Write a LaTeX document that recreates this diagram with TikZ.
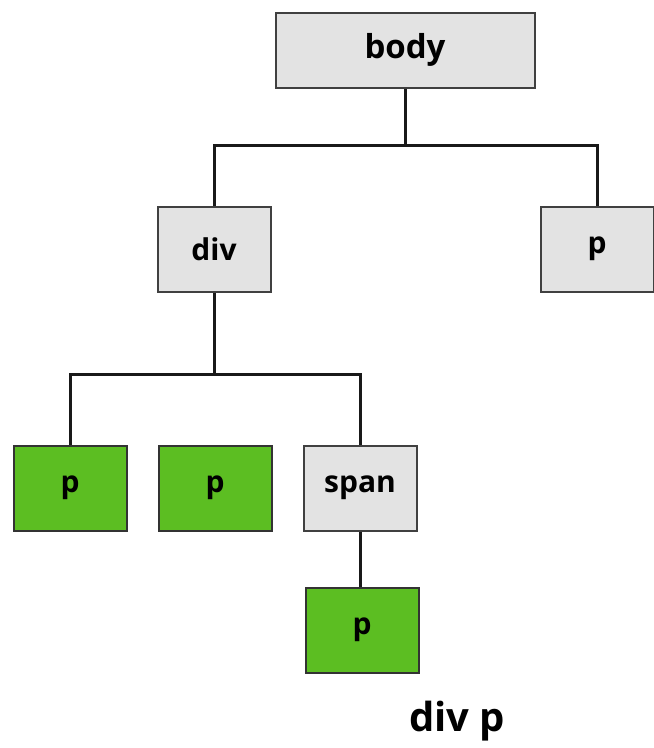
\documentclass[tikz,border=0pt]{standalone}
\usepackage{fontspec}
\setmainfont{Open Sans}
\definecolor{boxgrey}{HTML}{E3E3E3}
\definecolor{selgreen}{HTML}{5CBE22}
\tikzset{
  elem/.style={draw=black!75,line width=2pt,fill=boxgrey,minimum width=113pt,minimum height=85pt,
    inner sep=0pt,font=\fontsize{30}{36}\selectfont\bfseries},
  hit/.style={elem,fill=selgreen,draw=black!80},
  link/.style={line width=3pt,draw=black!90}
}
\begin{document}
\begin{tikzpicture}[x=1pt,y=-1pt]
  \useasboundingbox (0,0) rectangle (654,748);
  \node[elem,minimum width=259pt,minimum height=75pt,font=\fontsize{33}{40}\selectfont\bfseries] (body) at (405,50) {body};
  \node[elem] (div) at (214,249) {div};
  \node[elem] (pr) at (597,249) {p};
  \node[hit] (p1) at (70,488) {p};
  \node[hit] (p2) at (215,488) {p};
  \node[elem] (span) at (360,488) {span};
  \node[hit] (p3) at (362,630) {p};
  \node[font=\fontsize{40}{48}\selectfont\bfseries] (sel) at (457,721) {div p};
  \coordinate (b0) at (405,145);
  \coordinate (b1) at (214,374);
  \draw[link] (body.south) -- (b0);
  \draw[link] (div.north) |- (b0) -| (pr.north);
  \draw[link] (div.south) -- (b1);
  \draw[link] (p1.north) |- (b1) -| (span.north);
  \draw[link] (span.south) -- (span.south |- p3.north);
\end{tikzpicture}
\end{document}
